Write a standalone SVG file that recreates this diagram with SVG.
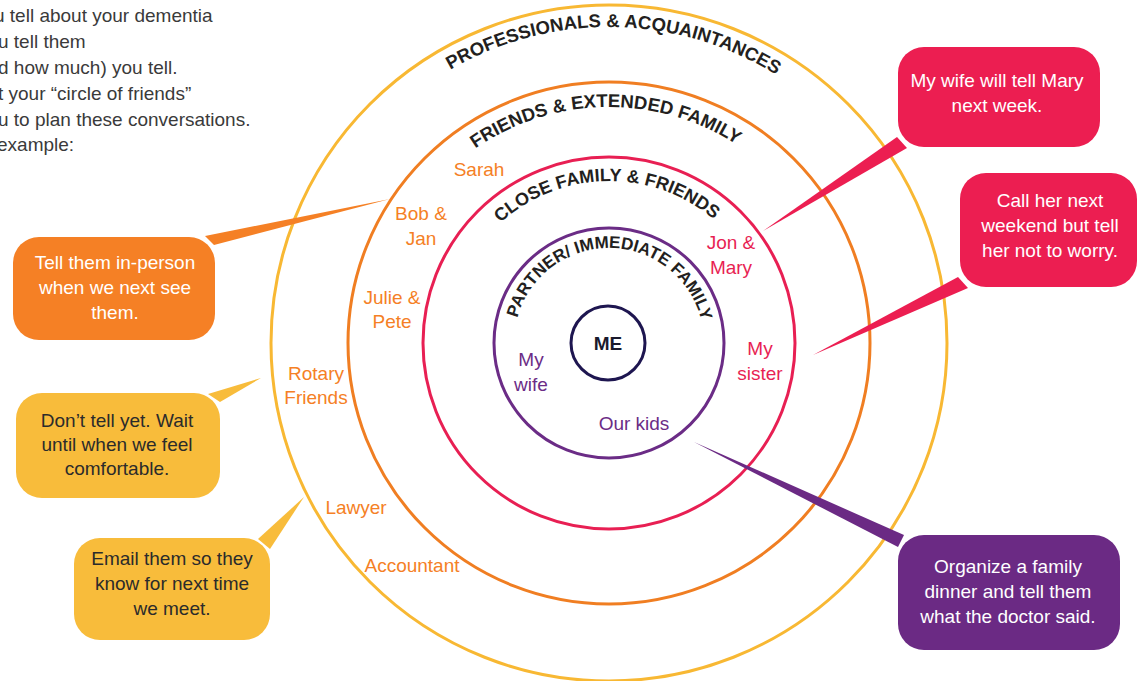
<svg xmlns="http://www.w3.org/2000/svg" width="1139" height="681" viewBox="0 0 1139 681">
<style>
text{font-family:"Liberation Sans",Arial,sans-serif;}
.intro{font-size:19px;fill:#3a3a3a;}
.ring{fill:none;stroke-width:3;}
.arc{font-size:18.5px;font-weight:bold;fill:#231f20;}
.lbl{font-size:19px;text-anchor:middle;}
.cw{font-size:19px;fill:#ffffff;text-anchor:middle;}
.cd{font-size:19px;fill:#2b2b2b;text-anchor:middle;}
</style>
<defs>
<path id="pY" d="M 293 343 A 316 316 0 0 1 925 343"/>
<path id="pO" d="M 373 343 A 236 236 0 0 1 845 343"/>
<path id="pP" d="M 447 343 A 162 162 0 0 1 771 343"/>
<path id="pU" d="M 514 343 A 95 95 0 0 1 704 343"/>
</defs>
<rect width="1139" height="681" fill="#ffffff"/>
<g id="intro">
<text class="intro" x="-6" y="22">u tell about your dementia</text>
<text class="intro" x="-2" y="48">u tell them</text>
<text class="intro" x="-2" y="74">d how much) you tell.</text>
<text class="intro" x="-2" y="100">t your “circle of friends”</text>
<text class="intro" x="-2" y="126">u to plan these conversations.</text>
<text class="intro" x="-3" y="151">example:</text>
</g>
<g id="ring-professionals">
<circle class="ring" cx="609" cy="343" r="338" stroke="#F8B833"/>
<text class="arc"><textPath href="#pY" startOffset="50.5%" text-anchor="middle">PROFESSIONALS &amp; ACQUAINTANCES</textPath></text>
<text class="lbl" fill="#F58025" x="316" y="380">Rotary</text>
<text class="lbl" fill="#F58025" x="316" y="404">Friends</text>
<text class="lbl" fill="#F58025" x="356" y="514">Lawyer</text>
<text class="lbl" fill="#F58025" x="412" y="572">Accountant</text>
</g>
<g id="ring-friends">
<circle class="ring" cx="609" cy="343" r="261" stroke="#F07E22"/>
<text class="arc"><textPath href="#pO" startOffset="49.5%" text-anchor="middle">FRIENDS &amp; EXTENDED FAMILY</textPath></text>
<text class="lbl" fill="#F58025" x="479" y="176">Sarah</text>
<text class="lbl" fill="#F58025" x="421" y="220">Bob &amp;</text>
<text class="lbl" fill="#F58025" x="421" y="245">Jan</text>
<text class="lbl" fill="#F58025" x="392" y="304">Julie &amp;</text>
<text class="lbl" fill="#F58025" x="392" y="328">Pete</text>
</g>
<g id="ring-close">
<circle class="ring" cx="609" cy="343" r="186" stroke="#E81F53"/>
<text class="arc" style="font-size:18px"><textPath href="#pP" startOffset="49.5%" text-anchor="middle">CLOSE FAMILY &amp; FRIENDS</textPath></text>
<text class="lbl" fill="#E81F53" x="731" y="249">Jon &amp;</text>
<text class="lbl" fill="#E81F53" x="731" y="274">Mary</text>
<text class="lbl" fill="#E81F53" x="760" y="355">My</text>
<text class="lbl" fill="#E81F53" x="760" y="380">sister</text>
</g>
<g id="ring-partner">
<circle class="ring" cx="609" cy="343" r="115" stroke="#6B2C86"/>
<text class="arc" style="font-size:17px"><textPath href="#pU" startOffset="50.5%" text-anchor="middle">PARTNER/ IMMEDIATE FAMILY</textPath></text>
<text class="lbl" fill="#6B2C86" x="531" y="366">My</text>
<text class="lbl" fill="#6B2C86" x="531" y="391">wife</text>
<text class="lbl" fill="#6B2C86" x="634" y="430">Our kids</text>
</g>
<g id="me">
<circle class="ring" cx="608" cy="343" r="37" stroke="#1E1650"/>
<text x="608" y="350" text-anchor="middle" style="font-size:19px;font-weight:bold;fill:#1a1a2e">ME</text>
</g>
<g id="connectors">
<polygon points="205,236 214,245 390,199" fill="#F58025"/>
<polygon points="208,394 220,402 261,378" fill="#F8BC3B"/>
<polygon points="258,539 270,549 304,497" fill="#F8BC3B"/>
<polygon points="897,137 907,148 763,231" fill="#EC1E51"/>
<polygon points="958,277 968,288 813,355" fill="#EC1E51"/>
<polygon points="904,535 898,547 694,442" fill="#6B2A84"/>
</g>
<g id="callout-inperson">
<rect x="13" y="237" width="202" height="103" rx="26" fill="#F58025"/>
<text class="cw" x="115" y="269">Tell them in-person</text>
<text class="cw" x="115" y="294">when we next see</text>
<text class="cw" x="115" y="319">them.</text>
</g>
<g id="callout-wait">
<rect x="16" y="393" width="204" height="105" rx="26" fill="#F8BC3B"/>
<text class="cd" x="117" y="427">Don’t tell yet. Wait</text>
<text class="cd" x="117" y="451">until when we feel</text>
<text class="cd" x="117" y="475">comfortable.</text>
</g>
<g id="callout-email">
<rect x="74" y="538" width="196" height="102" rx="26" fill="#F8BC3B"/>
<text class="cd" x="172" y="565">Email them so they</text>
<text class="cd" x="172" y="590">know for next time</text>
<text class="cd" x="172" y="615">we meet.</text>
</g>
<g id="callout-mary">
<rect x="898" y="47" width="202" height="100" rx="26" fill="#EC1E51"/>
<text class="cw" x="997" y="87">My wife will tell Mary</text>
<text class="cw" x="997" y="112">next week.</text>
</g>
<g id="callout-sister">
<rect x="960" y="173" width="177" height="114" rx="26" fill="#EC1E51"/>
<text class="cw" x="1050" y="207">Call her next</text>
<text class="cw" x="1050" y="232">weekend but tell</text>
<text class="cw" x="1050" y="257">her not to worry.</text>
</g>
<g id="callout-dinner">
<rect x="898" y="535" width="222" height="115" rx="26" fill="#6B2A84"/>
<text class="cw" x="1008" y="573">Organize a family</text>
<text class="cw" x="1008" y="598">dinner and tell them</text>
<text class="cw" x="1008" y="623">what the doctor said.</text>
</g>
</svg>
